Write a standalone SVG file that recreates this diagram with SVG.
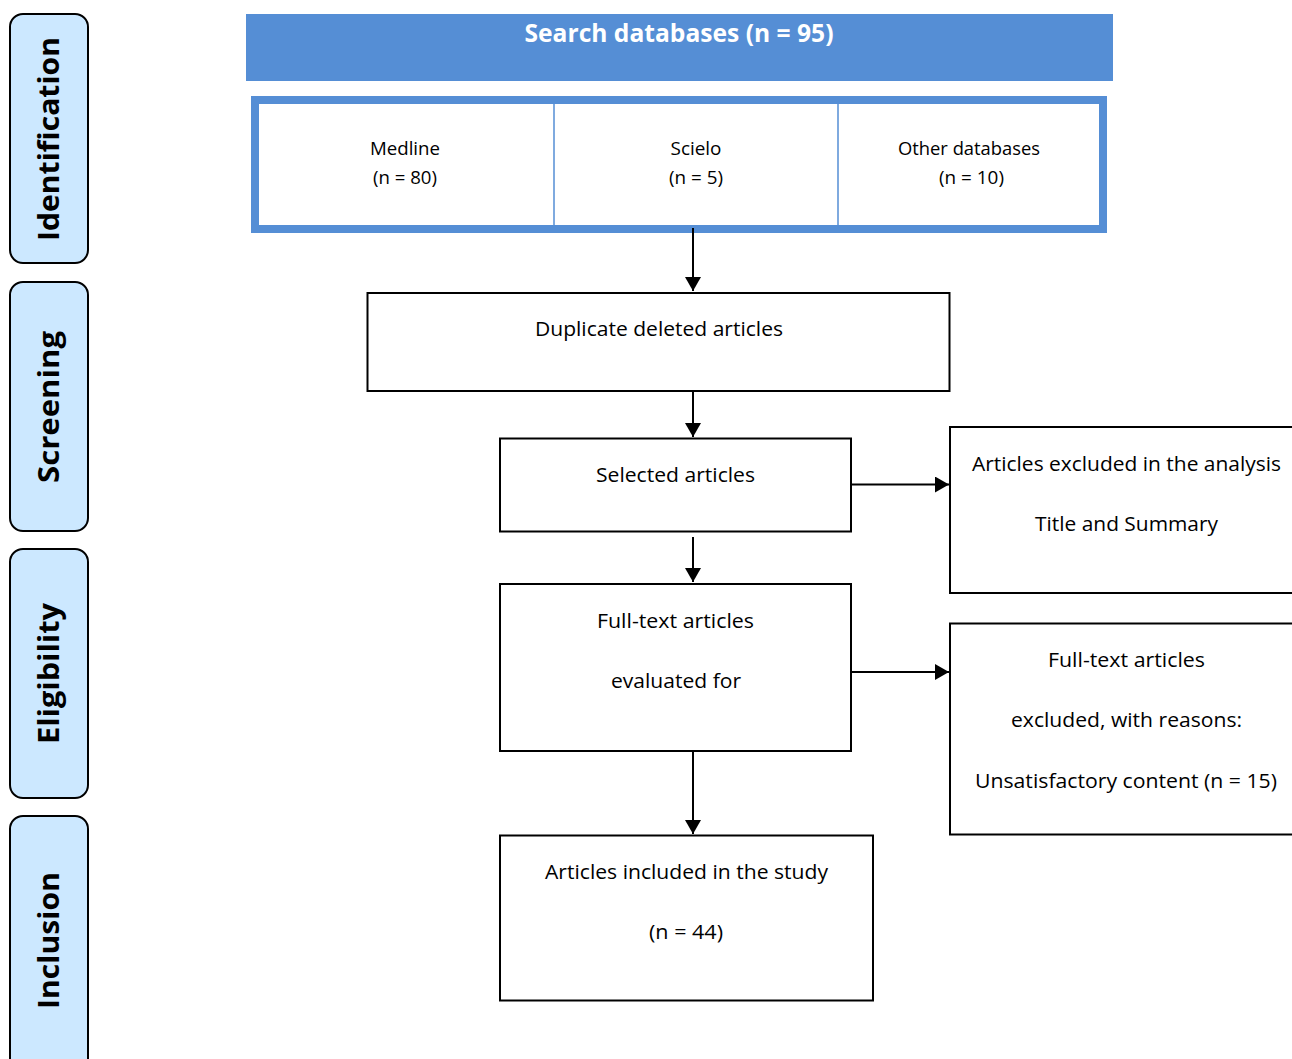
<svg xmlns="http://www.w3.org/2000/svg" width="1292" height="1059" viewBox="0 0 1292 1059">
<style>
.side{fill:#CCE8FF;stroke:#000;stroke-width:2}
.sl{font-family:"Open Sans","Liberation Sans",sans-serif;font-weight:bold;font-size:28px;fill:#000;text-anchor:middle}
.box{fill:#fff;stroke:#000;stroke-width:2}
.t{font-family:"Open Sans","Liberation Sans",sans-serif;font-size:20px;fill:#000;text-anchor:middle}
.ts{font-family:"Open Sans","Liberation Sans",sans-serif;font-size:18px;fill:#000;text-anchor:middle}
.con{stroke:#000;stroke-width:2;fill:none;marker-end:url(#ah)}
</style>
<defs>
<marker id="ah" markerWidth="8" markerHeight="8" refX="7" refY="4" orient="auto" markerUnits="strokeWidth">
<path d="M0,0 L7,4 L0,8 Z" fill="#000"/>
</marker>
</defs>
<rect width="1292" height="1059" fill="#fff"/>

<g id="stage-identification">
<rect class="side" x="10" y="14" width="78" height="249" rx="13"/>
<text class="sl" transform="translate(59,139) rotate(-90)" textLength="204" lengthAdjust="spacingAndGlyphs">Identification</text>
</g>
<g id="stage-screening">
<rect class="side" x="10" y="282" width="78" height="249" rx="13"/>
<text class="sl" transform="translate(59,407) rotate(-90)" textLength="152" lengthAdjust="spacingAndGlyphs">Screening</text>
</g>
<g id="stage-eligibility">
<rect class="side" x="10" y="549" width="78" height="249" rx="13"/>
<text class="sl" transform="translate(59,673.5) rotate(-90)" textLength="141" lengthAdjust="spacingAndGlyphs">Eligibility</text>
</g>
<g id="stage-inclusion">
<rect class="side" x="10" y="816" width="78" height="260" rx="13"/>
<text class="sl" transform="translate(59,940.5) rotate(-90)" textLength="137" lengthAdjust="spacingAndGlyphs">Inclusion</text>
</g>

<g id="search-databases">
<rect x="246" y="14" width="867" height="67" fill="#558ED5"/>
<text x="679" y="42" font-family="'Open Sans','Liberation Sans',sans-serif" font-weight="bold" font-size="25" fill="#fff" text-anchor="middle" textLength="309" lengthAdjust="spacingAndGlyphs">Search databases (n = 95)</text>
</g>

<g id="databases">
<rect x="255" y="100" width="848" height="129" fill="#fff" stroke="#558ED5" stroke-width="8"/>
<line x1="554" y1="104" x2="554" y2="225" stroke="#558ED5" stroke-width="1.5"/>
<line x1="838" y1="104" x2="838" y2="225" stroke="#558ED5" stroke-width="1.5"/>
<text class="ts" x="405" y="155" textLength="70" lengthAdjust="spacingAndGlyphs">Medline</text>
<text class="ts" x="405" y="184" textLength="64" lengthAdjust="spacingAndGlyphs">(n = 80)</text>
<text class="ts" x="696" y="155" textLength="51" lengthAdjust="spacingAndGlyphs">Scielo</text>
<text class="ts" x="696" y="184" textLength="54" lengthAdjust="spacingAndGlyphs">(n = 5)</text>
<text class="ts" x="969" y="155" textLength="142" lengthAdjust="spacingAndGlyphs">Other databases</text>
<text class="ts" x="971.5" y="184" textLength="65" lengthAdjust="spacingAndGlyphs">(n = 10)</text>
</g>

<g id="duplicates">
<rect class="box" x="367.5" y="293" width="582" height="98"/>
<text class="t" x="659" y="336" textLength="248" lengthAdjust="spacingAndGlyphs">Duplicate deleted articles</text>
</g>

<g id="selected">
<rect class="box" x="500" y="438.5" width="351" height="93"/>
<text class="t" x="675.5" y="482" textLength="159" lengthAdjust="spacingAndGlyphs">Selected articles</text>
</g>

<g id="excluded-analysis">
<rect class="box" x="950" y="427" width="350" height="166"/>
<text class="t" x="1126.5" y="471" textLength="309" lengthAdjust="spacingAndGlyphs">Articles excluded in the analysis</text>
<text class="t" x="1126.5" y="531" textLength="183" lengthAdjust="spacingAndGlyphs">Title and Summary</text>
</g>

<g id="fulltext">
<rect class="box" x="500" y="584" width="351" height="167"/>
<text class="t" x="675.5" y="628" textLength="157" lengthAdjust="spacingAndGlyphs">Full-text articles</text>
<text class="t" x="676" y="688" textLength="130" lengthAdjust="spacingAndGlyphs">evaluated for</text>
</g>

<g id="excluded-fulltext">
<rect class="box" x="950" y="623.5" width="350" height="211"/>
<text class="t" x="1126.5" y="667" textLength="157" lengthAdjust="spacingAndGlyphs">Full-text articles</text>
<text class="t" x="1126.5" y="727" textLength="231" lengthAdjust="spacingAndGlyphs">excluded, with reasons:</text>
<text class="t" x="1126" y="788" textLength="302" lengthAdjust="spacingAndGlyphs">Unsatisfactory content (n = 15)</text>
</g>

<g id="included">
<rect class="box" x="500" y="835.5" width="373" height="165"/>
<text class="t" x="686.5" y="879" textLength="283" lengthAdjust="spacingAndGlyphs">Articles included in the study</text>
<text class="t" x="686" y="939" textLength="74" lengthAdjust="spacingAndGlyphs">(n = 44)</text>
</g>

<g id="connectors">
<line class="con" x1="693" y1="228" x2="693" y2="291"/>
<line class="con" x1="693" y1="391" x2="693" y2="437"/>
<line class="con" x1="693" y1="537" x2="693" y2="582"/>
<line class="con" x1="693" y1="751" x2="693" y2="834"/>
<line class="con" x1="851" y1="484.5" x2="949" y2="484.5"/>
<line class="con" x1="851" y1="672" x2="949" y2="672"/>
</g>
</svg>
